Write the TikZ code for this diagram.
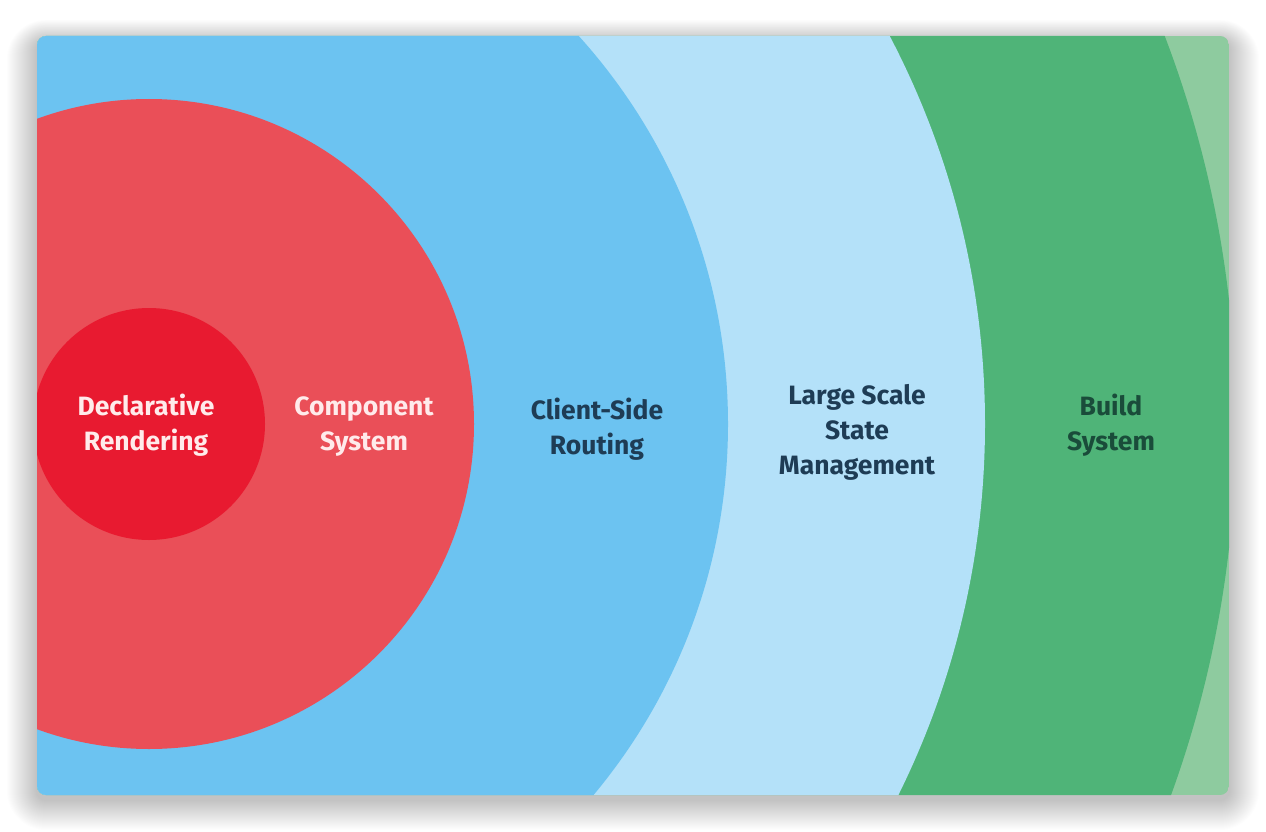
\documentclass[tikz,border=0pt]{standalone}
\usepackage{fontspec}
\setmainfont{Fira Sans}
\definecolor{redin}{HTML}{E81A30}
\definecolor{redout}{HTML}{EA4F58}
\definecolor{blueA}{HTML}{6CC3F1}
\definecolor{blueB}{HTML}{B4E1F9}
\definecolor{greenA}{HTML}{4FB478}
\definecolor{greenB}{HTML}{8ECB9F}
\definecolor{navy}{HTML}{1E3C55}
\definecolor{deepgreen}{HTML}{1A4C3A}
\tikzset{
  lbl/.style={align=center,font=\bfseries\fontsize{26.5}{35}\selectfont,inner sep=0pt}
}
\begin{document}
\begin{tikzpicture}[x=1pt,y=-1pt]
\useasboundingbox (0,0) rectangle (1266,832);
\fill[white] (0,0) rectangle (1266,832);
% soft shadow
\foreach \i in {1,...,30}{
  \fill[black,opacity=0.007,rounded corners=9+\i pt]
    (37-\i,36-0.7*\i+5) rectangle (1229+\i,795+\i+5);
}
\begin{scope}
  \clip[rounded corners=9pt] (37,36) rectangle (1229,795);
  \fill[greenB] (37,36) rectangle (1229,795);
  \fill[greenA] (149,424) circle[radius=1087];
  \fill[blueB] (149,424) circle[radius=836];
  \fill[blueA] (149,424) circle[radius=579];
  \fill[redout] (149,424) circle[radius=325];
  \fill[redin] (149,424) circle[radius=116];
\end{scope}
\node[lbl,text=white!92!red] (decl) at (146,425) {Declarative\\Rendering};
\node[lbl,text=white!92!red] (comp) at (364,427) {Component\\System};
\node[lbl,text=navy] (route) at (597,429) {Client-Side\\Routing};
\node[lbl,text=navy] (state) at (857,432) {Large Scale\\State\\Management};
\node[lbl,text=deepgreen] (build) at (1111,425) {Build\\System};
\end{tikzpicture}
\end{document}
